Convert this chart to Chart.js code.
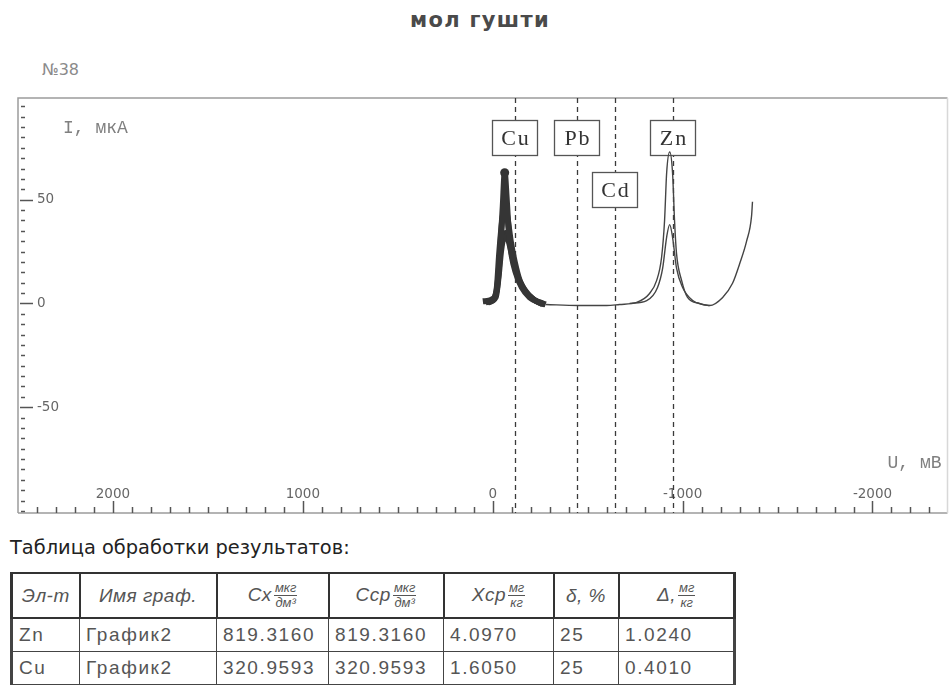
<!DOCTYPE html>
<html>
<head>
<meta charset="utf-8">
<script src="https://cdn.jsdelivr.net/npm/chart.js"></script>
<style>
  body { margin: 0; background: #fff; width: 952px; height: 688px; overflow: hidden; position: relative; }
  #title { position: absolute; left: 380px; width: 200px; top: 8px; text-align: center;
           font: bold 21px "DejaVu Sans", sans-serif; color: #4a4a4a; letter-spacing: 1.3px; }
  #num { position: absolute; left: 42px; top: 60px; font: 16px "DejaVu Sans", sans-serif; color: #8a8a8a; }
  #chart { position: absolute; left: 0; top: 0; }
  #caption { position: absolute; left: 10px; top: 536px; font: 19.4px "DejaVu Sans", sans-serif; color: #222; }
  #results { position: absolute; left: 10px; top: 572px; border-collapse: collapse; table-layout: fixed;
             font: 19px "Liberation Sans", Arial, sans-serif; color: #555; letter-spacing: 1.6px; }
  #results th { font-style: italic; font-weight: normal; height: 43px; border: 2px solid #333;
                padding: 0 3px; white-space: nowrap; letter-spacing: 0.5px; }
  #results td { height: 32px; border: 1.5px solid #444; padding: 0 6px; white-space: nowrap; }
  #results tr td:first-child, #results tr th:first-child { border-left-width: 3px; }
  #results tr td:last-child, #results tr th:last-child { border-right-width: 3px; }
  .frac { display: inline-block; vertical-align: middle; text-align: center; font-size: 13px;
          line-height: 14px; letter-spacing: 0; margin-left: 2px; }
  .frac span { display: block; padding: 0 1px; }
  .frac .n { border-bottom: 1px solid #555; }
</style>
</head>
<body>
<div id="title">мол гушти</div>
<div id="num">№38</div>
<canvas id="chart" width="952" height="520"></canvas>
<div id="caption">Таблица обработки результатов:</div>
<table id="results"></table>
<script>
// Cu peak: several overlapping recordings, drawn thick (U in mV, I in uA)
const cu1U = [52, 5, -21, -32, -42, -53, -63, -74, -84, -100, -121, -153, -195, -247, -279];
const cu1I = [1.0, 1.9, 6.3, 16, 30, 47, 63, 50, 35, 23, 15, 7.7, 2.9, 0.5, -0.5];
const cu2U = [37, -5, -22, -34, -50, -66, -80, -95, -116, -142, -178, -224, -274];
const cu2I = [0.5, 2, 8, 24, 40, 46, 40, 30, 20, 11, 5, 1.4, -0.5];
const cu3U = [26, -16, -30, -45, -66, -84, -105, -131, -168, -214, -263];
const cu3I = [0.5, 3, 12, 26, 34, 30, 22, 13, 6.5, 2, -0.5];

// baseline + tall Zn peak + rising tail
const traceU = [-279, -450, -600, -668, -758, -826, -863, -889, -905, -916, -932, -947, -958, -968,
                -995, -1026, -1089, -1142, -1211, -1263, -1300, -1337, -1363, -1368];
const traceI = [-0.5, -1, -1, -0.5, 0.5, 4.8, 11, 22, 40, 63, 73, 63, 39, 24,
                11, 2.9, 0, -1, 2.9, 9.7, 19, 30, 42, 49];

// second (lower) Zn peak
const znLowU = [-721, -811, -868, -895, -916, -932, -947, -968, -1000, -1053, -1105, -1142];
const znLowI = [0, 1.4, 7.7, 17, 32, 38, 32, 17, 7.7, 1.4, -0.5, -1];

// element markers
const elements = ['Cu', 'Pb', 'Cd', 'Zn'];
const elementU = [-116, -442, -642, -950];
const elementRow = [0, 0, 1, 0];

// axis ticks
const xTickLabels = [2000, 1000, 0, -1000, -2000];
const yTickLabels = [50, 0, -50];

// results table
const tableHead = ['Эл-т', 'Имя граф.', 'Cx', 'Cср', 'Xср', 'δ, %', 'Δ,'];
const tableUnitNum = ['', '', 'мкг', 'мкг', 'мг', '', 'мг'];
const tableUnitDen = ['', '', 'дм³', 'дм³', 'кг', '', 'кг'];
const colElement = ['Zn', 'Cu'];
const colGraph = ['График2', 'График2'];
const colCx = ['819.3160', '320.9593'];
const colCcp = ['819.3160', '320.9593'];
const colXcp = ['4.0970', '1.6050'];
const colDelta = ['25', '25'];
const colAbs = ['1.0240', '0.4010'];
const colWidths = [68, 137, 112, 115, 110, 65, 116];

const toPoints = (us, is) => us.map((u, i) => ({ x: u, y: is[i] }));

// find the tip of the tallest Cu recording for the marker dot
const cuTop = cu1I.indexOf(Math.max(...cu1I));

const frameAndAxes = {
    id: 'frameAndAxes',
    beforeDatasetsDraw(chart) {
        const { ctx, chartArea: a, scales: { x, y } } = chart;
        ctx.save();

        // frame
        ctx.strokeStyle = '#9c9c9c';
        ctx.lineWidth = 1.5;
        ctx.beginPath();
        ctx.moveTo(a.left, a.bottom);
        ctx.lineTo(a.left, a.top);
        ctx.lineTo(a.right, a.top);
        ctx.moveTo(a.left, a.bottom);
        ctx.lineTo(a.right, a.bottom);
        ctx.stroke();
        ctx.strokeStyle = '#d8d8d8';
        ctx.beginPath();
        ctx.moveTo(a.right, a.top);
        ctx.lineTo(a.right, a.bottom);
        ctx.stroke();

        // y ticks (inside, to the right of the axis)
        ctx.strokeStyle = '#555';
        ctx.lineWidth = 1.5;
        for (let v = -100; v <= 95; v += 5) {
            const py = Math.round(y.getPixelForValue(v)) + 0.5;
            const major = yTickLabels.includes(v);
            ctx.beginPath();
            ctx.moveTo(a.left + (major ? 2 : 3), py);
            ctx.lineTo(a.left + (major ? 15 : 7), py);
            ctx.stroke();
        }
        ctx.fillStyle = '#666';
        ctx.font = '13.5px "DejaVu Sans", sans-serif';
        ctx.textAlign = 'left';
        ctx.textBaseline = 'middle';
        yTickLabels.forEach(v => ctx.fillText(String(v), a.left + 19, y.getPixelForValue(v)));

        // x ticks (inside, above the axis)
        for (let v = -2300; v <= 2400; v += 100) {
            const px = Math.round(x.getPixelForValue(v)) + 0.5;
            const major = xTickLabels.includes(v);
            ctx.beginPath();
            ctx.moveTo(px, a.bottom);
            ctx.lineTo(px, a.bottom - (major ? 12 : 6));
            ctx.stroke();
        }
        ctx.textAlign = 'center';
        xTickLabels.forEach(v => ctx.fillText(String(v), x.getPixelForValue(v), a.bottom - 19));

        // axis names
        ctx.fillStyle = '#808080';
        ctx.font = '18px "Liberation Mono", monospace';
        ctx.textAlign = 'left';
        ctx.fillText('I, мкА', a.left + 45, a.top + 30);
        ctx.textAlign = 'right';
        ctx.fillText('U, мВ', a.right - 6, a.bottom - 50);

        // element lines and boxes
        ctx.strokeStyle = '#3a3a3a';
        ctx.lineWidth = 1.3;
        ctx.setLineDash([5, 4]);
        elementU.forEach(u => {
            const px = Math.round(x.getPixelForValue(u)) + 0.5;
            ctx.beginPath();
            ctx.moveTo(px, a.top);
            ctx.lineTo(px, a.bottom);
            ctx.stroke();
        });
        ctx.setLineDash([]);
        ctx.font = '22px "Liberation Serif", "DejaVu Serif", serif';
        ctx.textAlign = 'center';
        ctx.textBaseline = 'middle';
        elements.forEach((name, i) => {
            const px = Math.round(x.getPixelForValue(elementU[i]));
            const top = a.top + 22 + elementRow[i] * 52;
            ctx.fillStyle = '#fff';
            ctx.fillRect(px - 23, top, 46, 36);
            ctx.strokeStyle = '#555';
            ctx.strokeRect(px - 22.5, top + 0.5, 45, 35);
            ctx.fillStyle = '#333';
            ctx.letterSpacing = '2px';
            ctx.fillText(name, px + 1, top + 19);
            ctx.letterSpacing = '0px';
        });
        ctx.restore();
    }
};

const thick = { borderColor: '#353535', borderWidth: 6, tension: 0, cubicInterpolationMode: 'monotone' };
const thin = { borderColor: '#444', borderWidth: 1.4, tension: 0, cubicInterpolationMode: 'monotone' };

new Chart(document.getElementById('chart').getContext('2d'), {
    type: 'line',
    data: {
        datasets: [
            { label: 'Cu 1', data: toPoints(cu1U, cu1I), ...thick },
            { label: 'Cu 2', data: toPoints(cu2U, cu2I), ...thick },
            { label: 'Cu 3', data: toPoints(cu3U, cu3I), ...thick },
            { label: 'trace', data: toPoints(traceU, traceI), ...thin },
            { label: 'Zn 2', data: toPoints(znLowU, znLowI), ...thin },
            {
                label: 'Cu top', data: [{ x: cu1U[cuTop], y: cu1I[cuTop] }], showLine: false,
                pointRadius: 4.5, pointBackgroundColor: '#333', pointBorderWidth: 0
            }
        ]
    },
    options: {
        responsive: false,
        animation: false,
        layout: { padding: { left: 18, top: 98, right: 4, bottom: 7 } },
        plugins: { legend: { display: false }, tooltip: { enabled: false } },
        elements: { point: { radius: 0 } },
        scales: {
            x: { type: 'linear', reverse: true, min: -2395, max: 2500, display: false },
            y: { type: 'linear', min: -101, max: 99, display: false }
        }
    },
    plugins: [frameAndAxes]
});

// results table
const table = document.getElementById('results');
const colgroup = document.createElement('colgroup');
colWidths.forEach(w => {
    const col = document.createElement('col');
    col.style.width = w + 'px';
    colgroup.appendChild(col);
});
table.appendChild(colgroup);

const headRow = document.createElement('tr');
tableHead.forEach((h, i) => {
    const th = document.createElement('th');
    th.innerHTML = tableUnitNum[i]
        ? `${h}<span class="frac"><span class="n">${tableUnitNum[i]}</span><span>${tableUnitDen[i]}</span></span>`
        : h;
    headRow.appendChild(th);
});
table.appendChild(headRow);

colElement.forEach((el, r) => {
    const row = document.createElement('tr');
    [el, colGraph[r], colCx[r], colCcp[r], colXcp[r], colDelta[r], colAbs[r]].forEach(v => {
        const td = document.createElement('td');
        td.textContent = v;
        row.appendChild(td);
    });
    table.appendChild(row);
});
</script>
</body>
</html>
